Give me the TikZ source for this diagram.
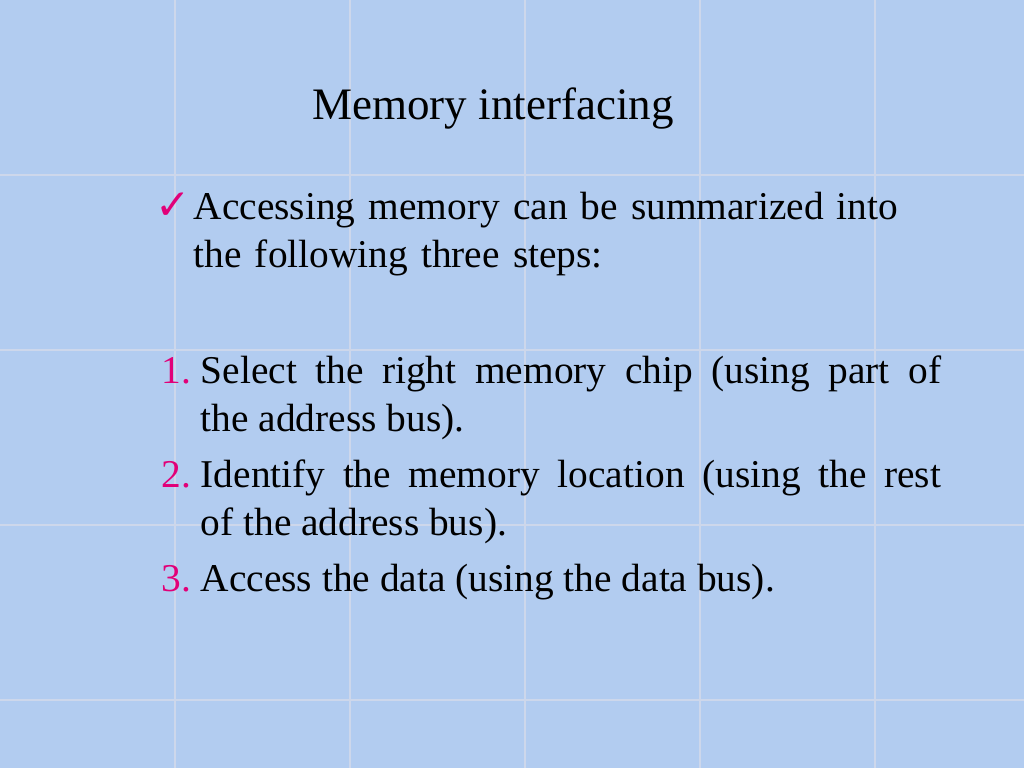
\documentclass[tikz,border=0pt]{standalone}
\usepackage{fontspec}
\setmainfont{Liberation Serif}
\newfontfamily\symfont{DejaVu Sans}
\usetikzlibrary{positioning}
\definecolor{slidebg}{RGB}{178,204,240}
\definecolor{gridline}{RGB}{205,215,235}
\definecolor{bullet}{RGB}{225,0,120}
\tikzset{%
  body/.style={anchor=base west, inner sep=0pt, font=\fontsize{11.2}{13.4}\selectfont},
  item/.style={body, text width=7.4cm, align=justify},
  num/.style={body, text=bullet}
}
\begin{document}
\begin{tikzpicture}[x=0.01cm, y=0.01cm]
	\fill [slidebg] (0,0) rectangle (1024,768);
	\useasboundingbox (0,0) rectangle (1024,768);
	\foreach \gx in {175,350,525,700,875} \draw [gridline, line width=0.6pt] (\gx,0) -- (\gx,768);
	\foreach \gy in {68,243,418,593} \draw [gridline, line width=0.6pt] (0,\gy) -- (1024,\gy);
	\node [body, anchor=base, font=\fontsize{12.8}{15}\selectfont] at (493,648) (title) {Memory interfacing};
	\node [num, anchor=base east, font=\symfont\fontsize{12}{15}\selectfont] at (192,548) (tick) {✓};
	\node [body, text width=8cm, align=left] at (193,548) (intro) {Accessing memory can be summarized into\\the following three steps:};
	\node [num, anchor=base east] at (192,384) (n1) {1.};
	\node [item] at (200,384) (s1) {Select the right memory chip (using part of\linebreak the address bus).};
	\node [num, anchor=base east] at (192,280) (n2) {2.};
	\node [item] at (200,280) (s2) {Identify the memory location (using the rest\linebreak of the address bus).};
	\node [num, anchor=base east] at (192,176) (n3) {3.};
	\node [item] at (200,176) (s3) {Access the data (using the data bus).};
\end{tikzpicture}
\end{document}
